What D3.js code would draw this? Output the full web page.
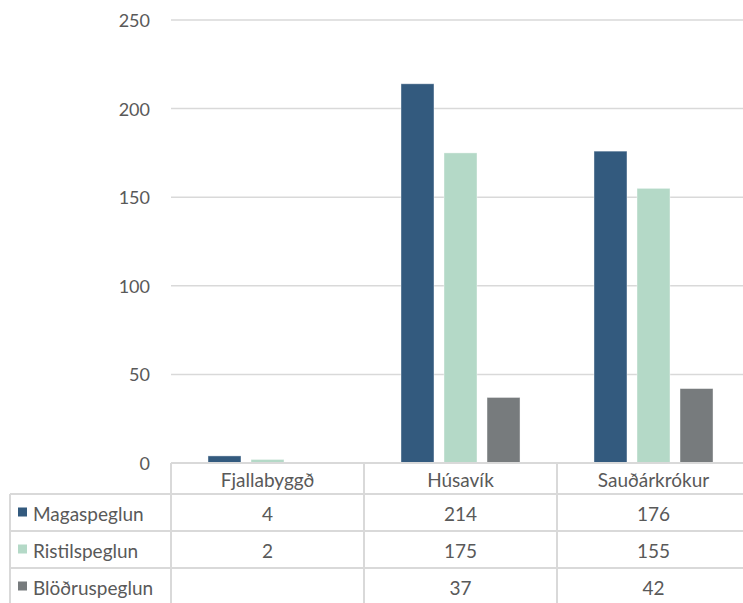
<!DOCTYPE html>
<html>
<head>
<meta charset="utf-8">
<script src="https://cdn.jsdelivr.net/npm/d3@7"></script>
<style>
  html, body { margin: 0; padding: 0; background: #fff; }
  svg { display: block; }
  text { font-family: Lato, "Open Sans", sans-serif; fill: #595959; }
</style>
</head>
<body>
<svg id="chart" width="743" height="603"></svg>
<script>
const categories = ["Fjallabyggð", "Húsavík", "Sauðárkrókur"];
const seriesNames = ["Magaspeglun", "Ristilspeglun", "Blöðruspeglun"];
const magaspeglun = [4, 214, 176];
const ristilspeglun = [2, 175, 155];
const blodruspeglun = [null, 37, 42];
const yTicks = [0, 50, 100, 150, 200, 250];
const colors = ["#335A7E", "#B4D9C7", "#777B7D"];

const seriesValues = [magaspeglun, ristilspeglun, blodruspeglun];

const svg = d3.select("#chart");
const plotLeft = 171, plotRight = 750, plotTop = 20, plotBottom = 463;
const gridColor = "#D9D9D9";
const axisFont = 18;
const tableFont = 19;

const x0 = d3.scaleBand().domain(categories).range([plotLeft, plotRight]);
const x1 = d3.scaleBand().domain(seriesNames).range([0, x0.bandwidth()])
  .paddingInner(0.233).paddingOuter(0.86);
const y = d3.scaleLinear().domain([0, 250]).range([plotBottom, plotTop]);

// gridlines
svg.append("g").selectAll("line").data(yTicks.filter(d => d > 0)).join("line")
  .attr("x1", plotLeft).attr("x2", plotRight)
  .attr("y1", d => y(d)).attr("y2", d => y(d))
  .attr("stroke", gridColor).attr("stroke-width", 1.5);

// y labels
svg.append("g").selectAll("text").data(yTicks).join("text")
  .attr("x", 150).attr("y", d => y(d))
  .attr("text-anchor", "end").attr("dominant-baseline", "central")
  .style("font-size", axisFont + "px")
  .text(d => d);

// bars
const groups = svg.append("g").selectAll("g").data(categories).join("g")
  .attr("transform", c => `translate(${x0(c)},0)`);
groups.selectAll("rect")
  .data((c, ci) => seriesNames.map((s, si) => ({ s, si, v: seriesValues[si][ci] })).filter(d => d.v != null))
  .join("rect")
  .attr("x", d => x1(d.s)).attr("width", x1.bandwidth())
  .attr("y", d => y(d.v)).attr("height", d => y(0) - y(d.v))
  .attr("fill", d => colors[d.si])
  .attr("stroke", "#ffffff").attr("stroke-opacity", 0.5).attr("stroke-width", 0.8);

// data table
const tableLeft = 10;
const rowEdges = [463, 494, 531, 568, 605];
const tbl = svg.append("g");
tbl.append("line").attr("x1", plotLeft).attr("x2", plotRight)
  .attr("y1", rowEdges[0]).attr("y2", rowEdges[0])
  .attr("stroke", gridColor).attr("stroke-width", 2);
tbl.selectAll("line.h").data(rowEdges.slice(1, 4)).join("line").attr("class", "h")
  .attr("x1", tableLeft).attr("x2", plotRight)
  .attr("y1", d => d).attr("y2", d => d)
  .attr("stroke", gridColor).attr("stroke-width", 2);
tbl.append("line").attr("x1", tableLeft).attr("x2", tableLeft)
  .attr("y1", rowEdges[1]).attr("y2", 603)
  .attr("stroke", gridColor).attr("stroke-width", 2);
tbl.selectAll("line.v").data(categories).join("line").attr("class", "v")
  .attr("x1", c => x0(c)).attr("x2", c => x0(c))
  .attr("y1", rowEdges[0]).attr("y2", 603)
  .attr("stroke", gridColor).attr("stroke-width", 2);

// header
tbl.selectAll("text.cat").data(categories).join("text").attr("class", "cat")
  .attr("x", c => x0(c) + x0.bandwidth() / 2)
  .attr("y", (rowEdges[0] + rowEdges[1]) / 2 + 1)
  .attr("text-anchor", "middle").attr("dominant-baseline", "central")
  .style("font-size", tableFont + "px")
  .text(c => c);

// rows
seriesNames.forEach((s, si) => {
  const cy = (rowEdges[si + 1] + rowEdges[si + 2]) / 2 + 1;
  tbl.append("rect").attr("x", 18).attr("y", cy - 6).attr("width", 9).attr("height", 9)
    .attr("fill", colors[si]);
  tbl.append("text").attr("x", 33).attr("y", cy)
    .attr("dominant-baseline", "central")
    .style("font-size", tableFont + "px").text(s);
  tbl.selectAll(null).data(categories).enter().append("text")
    .attr("x", c => x0(c) + x0.bandwidth() / 2).attr("y", cy)
    .attr("text-anchor", "middle").attr("dominant-baseline", "central")
    .style("font-size", tableFont + "px")
    .text((c, ci) => seriesValues[si][ci] == null ? "" : seriesValues[si][ci]);
});
</script>
</body>
</html>
